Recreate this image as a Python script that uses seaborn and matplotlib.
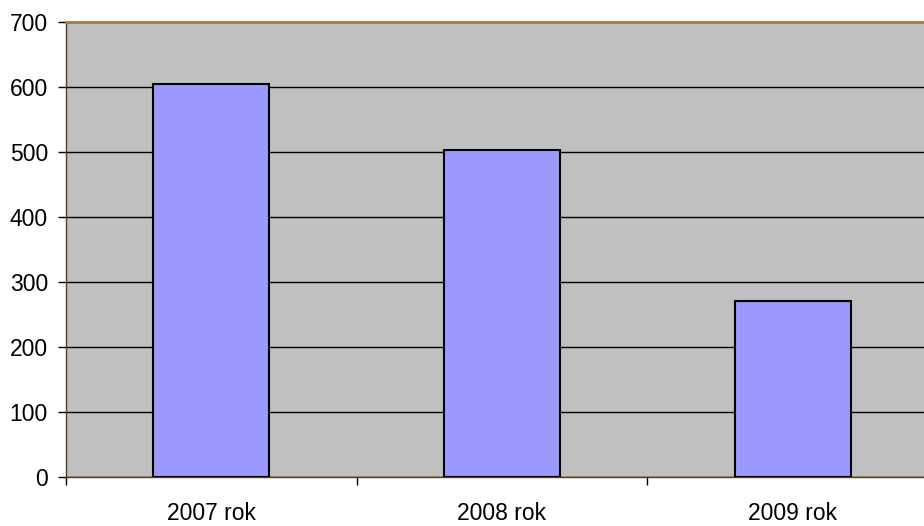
import matplotlib
matplotlib.use("Agg")
import matplotlib.pyplot as plt
import seaborn as sns
import pandas as pd

# dane z wykresu
lata = ["2007 rok", "2008 rok", "2009 rok"]
wartosci = [604, 503, 271]

df = pd.DataFrame({"rok": lata, "wartosc": wartosci})

sns.set_style("white")
plt.rcParams["font.family"] = ["Liberation Sans", "DejaVu Sans"]

fig = plt.figure(figsize=(9.24, 5.26), dpi=100)
# os wychodzi poza prawa krawedz obrazka, tak jak w oryginale
ax = fig.add_axes([66 / 924, 1 - 477 / 526, 872 / 924, 455 / 526])
ax.set_facecolor("#C0C0C0")

sns.barplot(data=df, x="rok", y="wartosc", color="#9999FF", width=0.4,
            edgecolor="black", linewidth=1.5, saturation=1, ax=ax, zorder=3)

ax.set_ylim(0, 700)
ax.set_xlim(-0.5, 2.5)
ax.set_yticks(range(0, 701, 100))
ax.yaxis.grid(True, color="black", linewidth=1)
ax.set_axisbelow(True)
ax.set_xlabel("")
ax.set_ylabel("")

# kreski na granicach kategorii
ax.set_xticks([-0.5, 0.5, 1.5, 2.5])
ax.set_xticklabels([])
ax.set_xticks(range(3), minor=True)
ax.set_xticklabels(lata, minor=True, fontsize=16.5)
ax.tick_params(axis="x", which="minor", bottom=False, length=0, pad=18,
               labelcolor="black")
ax.tick_params(axis="x", which="major", bottom=True, length=6, width=1,
               direction="out", color="black")
ax.tick_params(axis="y", left=True, length=6, width=1, direction="out",
               labelsize=16.5, pad=7, color="black", labelcolor="black")

for s in ["left", "bottom"]:
    ax.spines[s].set_color("#5A3A20")
    ax.spines[s].set_linewidth(1)
ax.spines["top"].set_color("#A87850")
ax.spines["top"].set_linewidth(2)
ax.spines["right"].set_visible(False)

fig.savefig("out.png", dpi=100)
